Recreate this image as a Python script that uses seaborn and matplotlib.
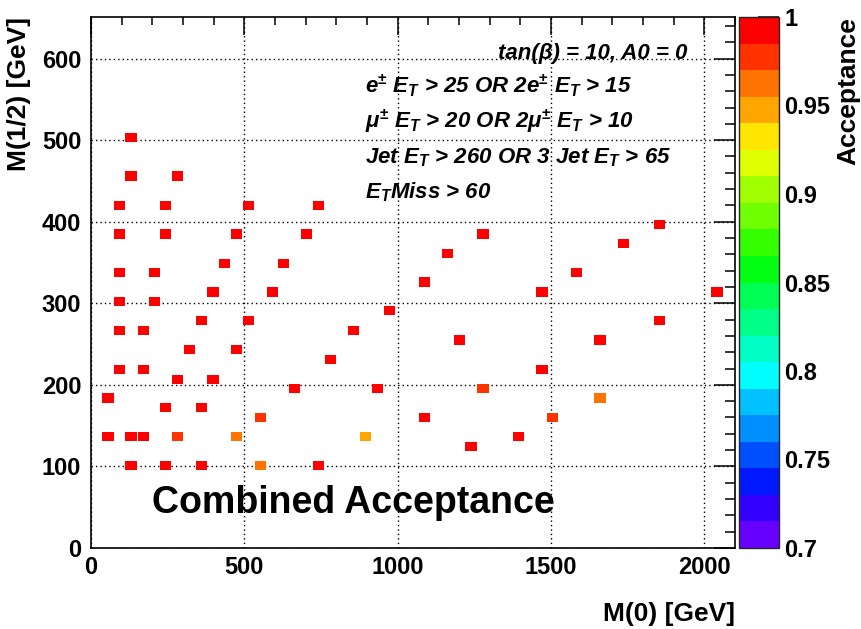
import numpy as np
import pandas as pd
import matplotlib
matplotlib.use("Agg")
import matplotlib.pyplot as plt
import seaborn as sns
from matplotlib.colors import ListedColormap, Normalize
from matplotlib.path import Path
from matplotlib.ticker import MultipleLocator, FormatStrFormatter

# ---- data ----
m0 = [130, 130, 282, 92, 242, 513, 741, 92, 242, 475, 702, 436, 627, 92, 208,
      398, 592, 92, 208, 973, 360, 513, 92, 171, 856, 321, 475, 780, 92, 171,
      282, 398, 663, 934, 55, 242, 360, 552, 55, 130, 171, 282, 475, 895,
      130, 242, 360, 552, 741,
      1278, 1162, 1087, 1471, 1853, 1737, 1582, 2041, 1853, 1201, 1660, 1471,
      1278, 1660, 1087, 1506, 1393, 1239]
m12 = [503, 456, 456, 420, 420, 420, 420, 385, 385, 385, 385, 349, 349, 338, 338,
       314, 314, 302, 302, 291, 279, 279, 267, 267, 267, 243, 243, 231, 219, 219,
       207, 207, 196, 196, 184, 172, 172, 160, 137, 137, 137, 137, 137, 137,
       101, 101, 101, 101, 101,
       385, 361, 326, 314, 397, 373, 338, 314, 279, 255, 255, 219,
       196, 184, 160, 160, 137, 124]
acceptance = [0.995, 0.995, 0.995, 0.995, 0.995, 0.995, 0.995, 0.995, 0.995, 0.995, 0.995, 0.995, 0.995, 0.995, 0.995,
              0.995, 0.995, 0.995, 0.995, 0.995, 0.995, 0.995, 0.995, 0.995, 0.995, 0.995, 0.995, 0.995, 0.995, 0.995,
              0.995, 0.995, 0.995, 0.995, 0.995, 0.995, 0.995, 0.978, 0.995, 0.995, 0.995, 0.978, 0.963, 0.948,
              0.995, 0.995, 0.995, 0.963, 0.995,
              0.995, 0.995, 0.995, 0.995, 0.995, 0.995, 0.995, 0.995, 0.995, 0.995, 0.995, 0.995,
              0.978, 0.963, 0.995, 0.978, 0.995, 0.995]

palette_colors = ["#6600ff", "#3300ff", "#0018ff", "#0050ff", "#0090ff", "#00c0ff",
                  "#00ffff", "#00ffc4", "#00ff88", "#00ff55", "#00ff10", "#33ff00",
                  "#70ff00", "#a0ff00", "#e0ff00", "#ffe600", "#ffa500", "#ff7300",
                  "#ff3300", "#ff0000"]
cbar_ticks = [0.7, 0.75, 0.8, 0.85, 0.9, 0.95, 1.0]

info_lines = [
    "e$^{\\pm}$ E$_{T}$ > 25 OR 2e$^{\\pm}$ E$_{T}$ > 15",
    "\u03bc$^{\\pm}$ E$_{T}$ > 20 OR 2\u03bc$^{\\pm}$ E$_{T}$ > 10",
    "Jet E$_{T}$ > 260 OR 3 Jet E$_{T}$ > 65",
    "E$_{T}$Miss > 60",
]

df = pd.DataFrame({"m0": m0, "m12": m12, "acc": acceptance})

# ---- style ----
sns.set_style("white")
plt.rcParams["font.family"] = ["Liberation Sans", "DejaVu Sans"]
plt.rcParams["font.weight"] = "bold"
plt.rcParams["text.color"] = "black"
plt.rcParams["axes.labelcolor"] = "black"
plt.rcParams["xtick.color"] = "black"
plt.rcParams["ytick.color"] = "black"
plt.rcParams["mathtext.fontset"] = "custom"
plt.rcParams["mathtext.rm"] = "Liberation Sans:bold"
plt.rcParams["mathtext.it"] = "Liberation Sans:italic:bold"
plt.rcParams["mathtext.bf"] = "Liberation Sans:bold"
plt.rcParams["mathtext.default"] = "it"

fig = plt.figure(figsize=(8.61, 6.29), dpi=100)
ax = fig.add_axes([91 / 861, 1 - 548 / 629, (735 - 91) / 861, (548 - 17) / 629])
cax = fig.add_axes([739 / 861, 1 - 548 / 629, 40 / 861, (548 - 17) / 629])

cmap = ListedColormap(palette_colors)
norm = Normalize(0.7, 1.0)

rect = Path([(-1, -0.82), (1, -0.82), (1, 0.82), (-1, 0.82), (-1, -0.82)],
            [Path.MOVETO, Path.LINETO, Path.LINETO, Path.LINETO, Path.CLOSEPOLY])

sns.scatterplot(data=df, x="m0", y="m12", hue="acc", palette=cmap, hue_norm=norm,
                marker=rect, s=66, linewidth=0, edgecolor="none", legend=False,
                ax=ax, zorder=3)

ax.set_xlim(0, 2100)
ax.set_ylim(0, 651)
ax.xaxis.set_major_locator(MultipleLocator(500))
ax.xaxis.set_minor_locator(MultipleLocator(100))
ax.yaxis.set_major_locator(MultipleLocator(100))
ax.yaxis.set_minor_locator(MultipleLocator(20))
ax.grid(True, which="major", color="black", linestyle=(0, (1, 2.2)), linewidth=1.0, zorder=1)
ax.set_axisbelow(True)

for sp in ax.spines.values():
    sp.set_linewidth(1.2)
    sp.set_color("black")

ax.tick_params(axis="both", which="both", direction="in", top=True, right=True,
               width=1.1, colors="black")
ax.tick_params(axis="x", which="major", length=13, pad=6, labelsize=17)
ax.tick_params(axis="x", which="minor", length=6)
ax.tick_params(axis="y", which="major", length=15, pad=7, labelsize=17)
ax.tick_params(axis="y", which="minor", length=7.5)
for lab in ax.get_xticklabels() + ax.get_yticklabels():
    lab.set_fontweight("bold")

ax.set_xlabel("M(0) [GeV]", loc="right", fontsize=19, fontweight="bold", labelpad=16)
ax.set_ylabel("M(1/2) [GeV]", loc="top", fontsize=19, fontweight="bold", labelpad=8)

# annotations
ax.text(0.9255, 0.921, "tan(\u03b2) = 10, A0 = 0", transform=ax.transAxes,
        ha="right", va="baseline", fontsize=16, fontweight="bold", fontstyle="italic")
ys = [0.857, 0.791, 0.725, 0.659]
for yy, line in zip(ys, info_lines):
    ax.text(0.4255, yy, line, transform=ax.transAxes, ha="left", va="baseline",
            fontsize=16, fontweight="bold", fontstyle="italic")
ax.text(0.0947, 0.066, "Combined Acceptance", transform=ax.transAxes,
        ha="left", va="baseline", fontsize=27, fontweight="bold", zorder=5)

# colorbar
sm = plt.cm.ScalarMappable(norm=norm, cmap=cmap)
cbar = fig.colorbar(sm, cax=cax)
cbar.outline.set_linewidth(1.0)
cbar.set_ticks(cbar_ticks)
cbar.ax.yaxis.set_major_formatter(FormatStrFormatter("%g"))
cbar.ax.minorticks_off()
cbar.ax.tick_params(direction="in", length=15, width=1.1, pad=4, labelsize=17, colors="black")
for lab in cbar.ax.get_yticklabels():
    lab.set_fontweight("bold")
cbar.set_label("Acceptance", loc="top", fontsize=19, fontweight="bold", labelpad=4)

fig.savefig("out.png", dpi=100)
